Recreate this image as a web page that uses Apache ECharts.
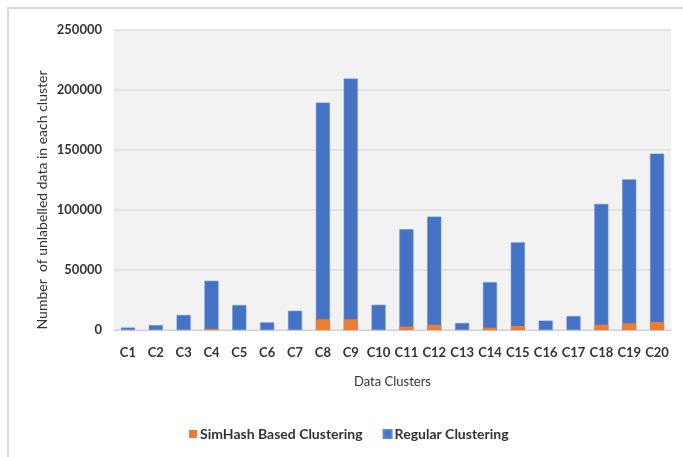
<!DOCTYPE html>
<html>
<head>
<meta charset="utf-8">
<title>Unlabelled data per cluster</title>
<script src="https://cdn.jsdelivr.net/npm/echarts@6/dist/echarts.min.js"></script>
<style>
  html, body { margin: 0; padding: 0; background: #ffffff; }
  #chart { width: 683px; height: 457px; }
</style>
</head>
<body>
<div id="chart"></div>
<script>
// Cluster names on the x axis
const clusters = ['C1','C2','C3','C4','C5','C6','C7','C8','C9','C10',
                  'C11','C12','C13','C14','C15','C16','C17','C18','C19','C20'];

// Unlabelled records per cluster, regular clustering
const regularCounts = [2000, 4000, 12500, 41000, 20800, 6300, 16000, 189500, 209500, 21000,
                       84000, 94500, 5800, 39800, 73000, 7800, 11600, 105000, 125500, 147000];

// Unlabelled records per cluster, SimHash based clustering
const simhashCounts = [0, 0, 0, 1000, 0, 0, 0, 9000, 9000, 0,
                       2800, 4400, 0, 2000, 3300, 0, 0, 4400, 5600, 6700];

// Value axis ticks
const yTicks = [0, 50000, 100000, 150000, 200000, 250000];

const FONT = 'Lato';
const chart = echarts.init(document.getElementById('chart'), null, { renderer: 'canvas' });

chart.setOption({
  animation: false,
  backgroundColor: '#ffffff',
  textStyle: { fontFamily: FONT },
  grid: {
    left: 114, right: 12, top: 30, bottom: 127,
    show: true, backgroundColor: '#f2f2f2', borderWidth: 0
  },
  legend: {
    data: ['SimHash Based Clustering', 'Regular Clustering'],
    left: 184, top: 422,
    itemWidth: 8, itemHeight: 8, itemGap: 20,
    icon: 'rect',
    textStyle: { fontFamily: FONT, fontSize: 14, fontWeight: 'bold', color: '#333333', padding: [0, 0, 0, -2] }
  },
  xAxis: {
    type: 'category',
    data: clusters,
    name: 'Data Clusters',
    nameLocation: 'middle',
    nameGap: 45,
    nameTextStyle: { fontFamily: FONT, fontSize: 13, color: '#333333' },
    axisLine: { show: true, lineStyle: { color: '#d0d0d0', width: 1 } },
    axisTick: { show: false },
    axisLabel: {
      interval: 0, hideOverlap: false,
      margin: 16, fontFamily: FONT, fontSize: 13, fontWeight: 'bold', color: '#333333'
    }
  },
  yAxis: {
    type: 'value',
    min: yTicks[0],
    max: yTicks[yTicks.length - 1],
    interval: yTicks[1] - yTicks[0],
    axisLine: { show: false },
    axisTick: { show: false },
    splitLine: { lineStyle: { color: '#dcdcdc', width: 1.5 } },
    axisLabel: {
      margin: 12, fontFamily: FONT, fontSize: 13, fontWeight: 'bold', color: '#333333',
      formatter: v => String(v)
    }
  },
  series: [
    {
      name: 'Regular Clustering',
      type: 'bar',
      data: regularCounts,
      barWidth: 14,
      barGap: '-100%',
      z: 2,
      itemStyle: { color: '#4472c4', borderColor: '#5a86d6', borderWidth: 0.6 }
    },
    {
      name: 'SimHash Based Clustering',
      type: 'bar',
      data: simhashCounts,
      barWidth: 14,
      barGap: '-100%',
      z: 3,
      itemStyle: { color: '#ed7d31' }
    }
  ],
  graphic: [
    // outer frame, top and left edges
    { type: 'line', shape: { x1: 7, y1: 8, x2: 683, y2: 8 }, style: { stroke: '#d9d9d9', lineWidth: 2 } },
    { type: 'line', shape: { x1: 8, y1: 8, x2: 8, y2: 457 }, style: { stroke: '#d9d9d9', lineWidth: 2 } },
    // value axis title
    {
      type: 'text',
      x: 42, y: 200,
      rotation: Math.PI / 2,
      style: {
        text: 'Number  of unlabelled data in each cluster',
        font: '14px ' + FONT,
        fill: '#333333',
        align: 'center',
        verticalAlign: 'middle'
      }
    }
  ]
});
</script>
</body>
</html>
